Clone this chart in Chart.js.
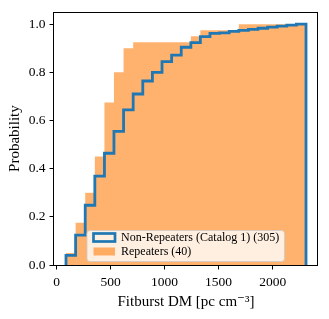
<!DOCTYPE html>
<html><head><meta charset="utf-8">
<script src="https://cdn.jsdelivr.net/npm/chart.js@4.4.1/dist/chart.umd.min.js"></script>
<style>html,body{margin:0;padding:0;background:#fff;} canvas{display:block;}</style>
</head><body>
<canvas id="c" width="329" height="319"></canvas>
<script>
// ---- data ----
const binEdges = [87,176,265,354,443,531,620,709,798,887,976,1065,1154,1243,1331,1420,1509,1598,1687,1776,1865,1954,2042,2131,2220,2309];
const nonRepeaterCdf = [0.04,0.124,0.248,0.369,0.464,0.555,0.644,0.71,0.764,0.80,0.844,0.871,0.904,0.923,0.948,0.962,0.964,0.970,0.974,0.978,0.983,0.988,0.992,0.996,1.0];
const repeaterCdf = [0.05,0.175,0.3,0.45,0.675,0.8,0.9,0.925,0.925,0.925,0.925,0.925,0.925,0.95,0.975,0.975,0.975,0.975,1,1,1,1,1,1,1];
const xTicks = [0,500,1000,1500,2000];
const yTicks = [0,0.2,0.4,0.6,0.8,1.0];
const seriesLabels = ['Non-Repeaters (Catalog 1) (305)', 'Repeaters (40)'];

const FONT = "'Liberation Serif', 'DejaVu Serif', serif";
const BLUE = '#1f77b4';
const ORANGE = 'rgba(255,127,14,0.6)';

function stepPoints(cdf) {
  const last = binEdges.length - 1;
  const pts = [{x: binEdges[0], y: 0}];
  cdf.forEach((v, i) => pts.push({x: binEdges[i], y: v}));
  pts.push({x: binEdges[last], y: cdf[cdf.length - 1]});
  pts.push({x: binEdges[last], y: 0});
  return pts;
}

const frameAndLegend = {
  id: 'frameAndLegend',
  afterDraw(chart) {
    const {ctx, chartArea: a} = chart;
    ctx.save();
    // axes frame
    ctx.strokeStyle = '#000';
    ctx.lineWidth = 1;
    const L = Math.round(a.left) - 0.5, T = Math.round(a.top) + 0.5;
    const R = Math.round(a.right) - 0.5, B = Math.round(a.bottom) + 0.5;
    ctx.strokeRect(L, T, R - L, B - T);
    // legend box
    const bx = a.left + 32.5, by = a.bottom - 35, bw = a.right - 34 - bx, bh = 31;
    ctx.beginPath();
    if (ctx.roundRect) ctx.roundRect(bx + 0.5, by + 0.5, bw, bh, 3); else ctx.rect(bx + 0.5, by + 0.5, bw, bh);
    ctx.fillStyle = 'rgba(255,255,255,0.8)';
    ctx.fill();
    ctx.strokeStyle = 'rgba(204,204,204,0.8)';
    ctx.lineWidth = 1;
    ctx.stroke();
    // entries
    const hx = bx + 7, hw = 21.5, hh = 8;
    const rows = [by + 7.5, by + 21.5];
    ctx.strokeStyle = BLUE;
    ctx.lineWidth = 2.7;
    ctx.strokeRect(hx, rows[0] - hh / 2, hw, hh);
    ctx.fillStyle = ORANGE;
    ctx.fillRect(hx, rows[1] - hh / 2, hw, hh);
    ctx.fillStyle = '#000';
    ctx.font = "12px " + FONT;
    ctx.textBaseline = 'middle';
    ctx.textAlign = 'left';
    ctx.fillText(seriesLabels[0], bx + 34.5, rows[0] + 0.8);
    ctx.fillText(seriesLabels[1], bx + 34.5, rows[1] + 0.8);
    ctx.restore();
  }
};

new Chart(document.getElementById('c'), {
  type: 'line',
  data: {
    datasets: [
      {
        label: seriesLabels[0],
        data: stepPoints(nonRepeaterCdf),
        stepped: 'before',
        borderColor: BLUE,
        borderWidth: 2.8,
        borderJoinStyle: 'miter',
        fill: false,
        pointRadius: 0,
        order: 0
      },
      {
        label: seriesLabels[1],
        data: stepPoints(repeaterCdf),
        stepped: 'before',
        borderColor: 'rgba(0,0,0,0)',
        borderWidth: 1,
        backgroundColor: ORANGE,
        fill: 'origin',
        pointRadius: 0,
        order: 1
      }
    ]
  },
  options: {
    responsive: false,
    animation: false,
    events: [],
    layout: { padding: { top: 10, right: 11, left: 0, bottom: 0 } },
    plugins: { legend: { display: false }, tooltip: { enabled: false } },
    scales: {
      x: {
        type: 'linear', min: -24, max: 2420,
        afterFit: s => { s.height = 54; },
        afterBuildTicks: s => { s.ticks = xTicks.map(v => ({value: v})); },
        ticks: { callback: v => String(v), color: '#000', font: {family: FONT, size: 13.5}, padding: 5, maxRotation: 0 },
        grid: { drawOnChartArea: false, drawTicks: true, tickLength: 4.5, tickColor: '#000', tickWidth: 1 },
        border: { display: false },
        title: { display: true, text: 'Fitburst DM [pc cm\u207B\u00B3]', color: '#000', font: {family: FONT, size: 15}, padding: {top: 0, bottom: 8} }
      },
      y: {
        type: 'linear', min: 0, max: 1.05,
        afterFit: s => { s.width = 54; },
        afterBuildTicks: s => { s.ticks = yTicks.map(v => ({value: v})); },
        ticks: { callback: v => Number(v).toFixed(1), color: '#000', font: {family: FONT, size: 13.5}, padding: 4 },
        grid: { drawOnChartArea: false, drawTicks: true, tickLength: 4.5, tickColor: '#000', tickWidth: 1 },
        border: { display: false },
        title: { display: true, text: 'Probability', color: '#000', font: {family: FONT, size: 15}, padding: {top: 6, bottom: 0} }
      }
    }
  },
  plugins: [frameAndLegend]
});
</script>
</body></html>
